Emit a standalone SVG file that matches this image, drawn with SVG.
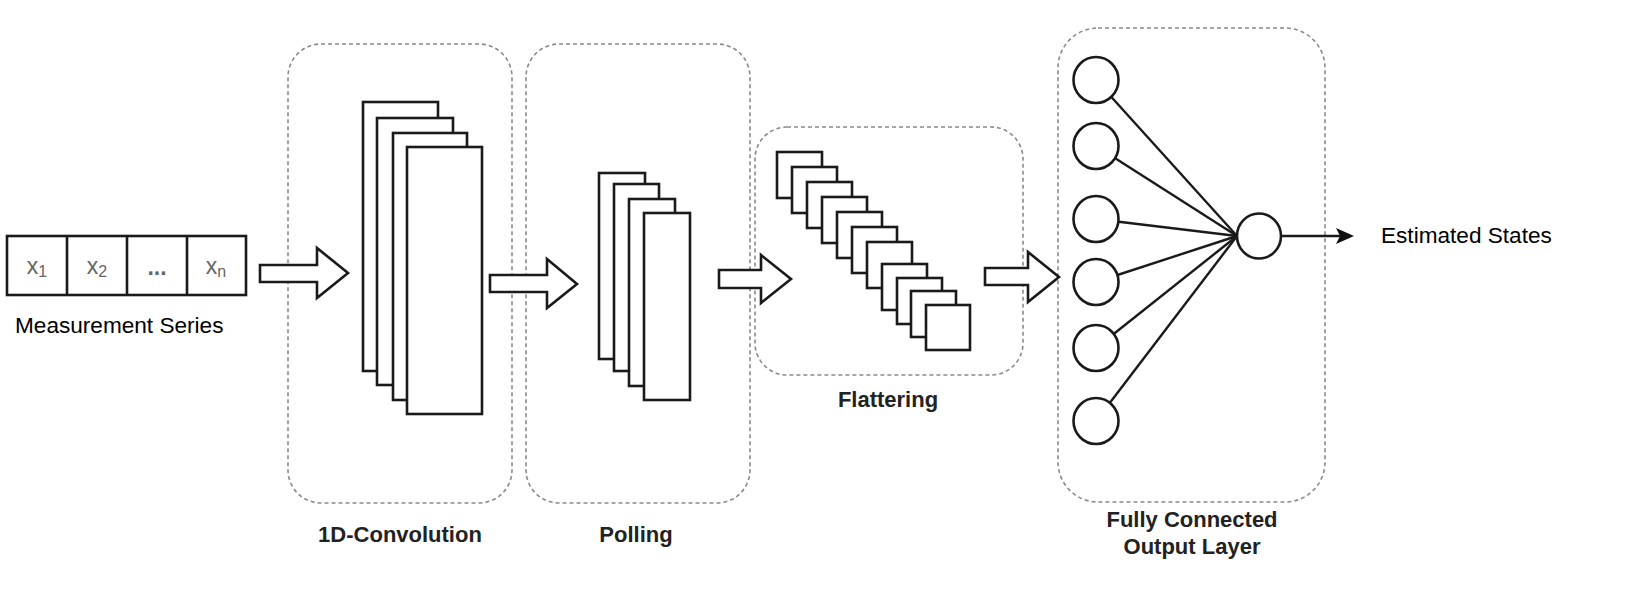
<svg xmlns="http://www.w3.org/2000/svg" width="1626" height="608" viewBox="0 0 1626 608">
<style>
.cont{fill:none;stroke:#8a8a8a;stroke-width:1.6;stroke-dasharray:4 3}
.blk{fill:#fff;stroke:#1a1a1a;stroke-width:2.6}
.arr{fill:#fff;stroke:#1a1a1a;stroke-width:2.6;stroke-linejoin:miter}
.lbl{font-family:"Liberation Sans",Arial,sans-serif;font-size:22px;font-weight:bold;fill:#222;text-anchor:middle}
.txt{font-family:"Liberation Sans",Arial,sans-serif;font-size:22.6px;fill:#000}
.cell{font-family:"Liberation Sans",Arial,sans-serif;font-size:23px;fill:#666;text-anchor:middle}
.fc{stroke:#1a1a1a;stroke-width:2.4}
.neu{fill:#fff;stroke:#1a1a1a;stroke-width:2.6}
</style>
<rect width="1626" height="608" fill="#fff"/>

<g id="containers">
<rect class="cont" x="288" y="44" width="224" height="459" rx="33" ry="33"/>
<rect class="cont" x="526" y="44" width="224" height="459" rx="33" ry="33"/>
<rect class="cont" x="755" y="127" width="268" height="248" rx="32" ry="32"/>
<rect class="cont" x="1058" y="28" width="267" height="474" rx="40" ry="40"/>
</g>

<g id="measurement-series">
<rect class="blk" x="7" y="236" width="239" height="59"/>
<line class="blk" x1="67" y1="236" x2="67" y2="295"/>
<line class="blk" x1="127" y1="236" x2="127" y2="295"/>
<line class="blk" x1="187" y1="236" x2="187" y2="295"/>
<text class="cell" x="37" y="274">x<tspan font-size="16" dy="3">1</tspan></text>
<text class="cell" x="97" y="274">x<tspan font-size="16" dy="3">2</tspan></text>
<text class="cell" x="157" y="275" font-weight="bold" fill="#333">...</text>
<text class="cell" x="216" y="274">x<tspan font-size="16" dy="3">n</tspan></text>
<text class="txt" x="15" y="333">Measurement Series</text>
</g>

<g id="convolution">
<rect class="blk" x="363" y="102" width="75" height="269"/>
<rect class="blk" x="377" y="118" width="76" height="267"/>
<rect class="blk" x="393" y="133" width="74" height="267"/>
<rect class="blk" x="407" y="147" width="75" height="267"/>
<text class="lbl" x="400" y="542">1D-Convolution</text>
</g>

<g id="pooling">
<rect class="blk" x="599" y="173" width="46" height="186"/>
<rect class="blk" x="614" y="184" width="45" height="187"/>
<rect class="blk" x="629" y="199" width="46" height="187"/>
<rect class="blk" x="644" y="213" width="46" height="187"/>
<text class="lbl" x="636" y="542">Polling</text>
</g>

<g id="flattening">
<rect class="blk" x="777" y="152" width="45" height="46"/>
<rect class="blk" x="792" y="167" width="45" height="46"/>
<rect class="blk" x="807" y="182" width="45" height="46"/>
<rect class="blk" x="822" y="197" width="45" height="46"/>
<rect class="blk" x="837" y="212" width="45" height="46"/>
<rect class="blk" x="852" y="227" width="45" height="46"/>
<rect class="blk" x="867" y="242" width="45" height="46"/>
<rect class="blk" x="882" y="264" width="45" height="46"/>
<rect class="blk" x="897" y="278" width="45" height="46"/>
<rect class="blk" x="911" y="291" width="45" height="46"/>
<rect class="blk" x="926" y="305" width="44" height="45"/>
<text class="lbl" x="888" y="407">Flattering</text>
</g>

<g id="connectors">
<polygon class="arr" points="260,265 317,265 317,248 348,273 317,298 317,282 260,282"/>
<polygon class="arr" points="490,275 547,275 547,259 577,284 547,308 547,292 490,292"/>
<polygon class="arr" points="719,270 761,270 761,255 791,279 761,303 761,288 719,288"/>
<polygon class="arr" points="985,268 1028,268 1028,252 1059,277 1028,302 1028,285 985,285"/>
<line class="fc" x1="1096" y1="80" x2="1237" y2="236"/>
<line class="fc" x1="1096" y1="146" x2="1237" y2="236"/>
<line class="fc" x1="1096" y1="219" x2="1237" y2="236"/>
<line class="fc" x1="1096" y1="282" x2="1237" y2="236"/>
<line class="fc" x1="1096" y1="348" x2="1237" y2="236"/>
<line class="fc" x1="1096" y1="421" x2="1237" y2="236"/>
<line class="fc" x1="1281" y1="236" x2="1342" y2="236"/>
<polygon points="1354,236 1336,228 1340,236 1336,244" fill="#111"/>
</g>

<g id="fc-layer">
<ellipse class="neu" cx="1096" cy="80" rx="22.5" ry="23"/>
<ellipse class="neu" cx="1096" cy="146" rx="22.5" ry="23"/>
<ellipse class="neu" cx="1096" cy="219" rx="22.5" ry="23"/>
<ellipse class="neu" cx="1096" cy="282" rx="22.5" ry="23"/>
<ellipse class="neu" cx="1096" cy="348" rx="22.5" ry="23"/>
<ellipse class="neu" cx="1096" cy="421" rx="22.5" ry="23"/>
<ellipse class="neu" cx="1259" cy="236" rx="22" ry="22.5"/>
<text class="lbl" x="1192" y="527">Fully Connected</text>
<text class="lbl" x="1192" y="554">Output Layer</text>
</g>

<g id="output">
<text class="txt" x="1381" y="243">Estimated States</text>
</g>
</svg>
